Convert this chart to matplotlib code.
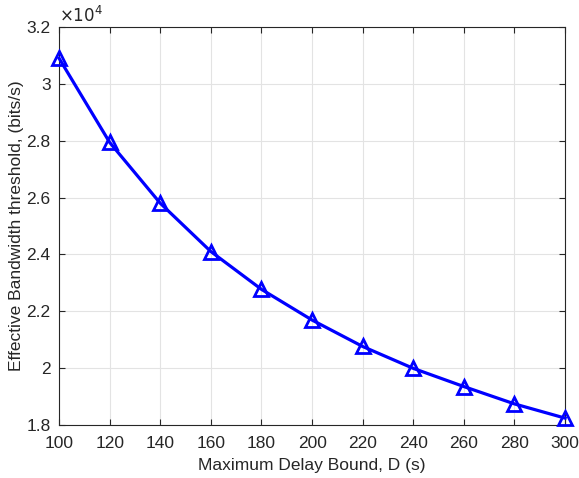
import numpy as np
import matplotlib.pyplot as plt

delay = [100, 120, 140, 160, 180, 200, 220, 240, 260, 280, 300]
bandwidth = [3.090, 2.794, 2.580, 2.410, 2.277, 2.169, 2.076, 1.999, 1.935, 1.874, 1.824]
bandwidth = np.array(bandwidth) * 1e4

xticks = np.arange(100, 301, 20)
yticks = np.arange(1.8, 3.21, 0.2)

plt.rcParams['font.family'] = ['Liberation Sans', 'DejaVu Sans']
grey = '#262626'

fig = plt.figure(figsize=(5.79, 4.78), dpi=100)
ax = fig.add_axes([0.102, 0.111, 0.874, 0.8325])

ax.plot(delay, bandwidth, color='#0000ff', linewidth=2.3, marker='^',
        markersize=10, markerfacecolor='none', markeredgewidth=2, clip_on=False, zorder=3)

ax.set_xlim(100, 300)
ax.set_ylim(1.8e4, 3.2e4)
ax.set_xticks(xticks)
ax.set_yticks(yticks * 1e4)
ax.set_yticklabels(['%g' % v for v in np.round(yticks, 1)])
ax.grid(True, color='#e3e3e3', linewidth=0.8)
ax.set_axisbelow(True)
ax.tick_params(direction='in', length=4, colors=grey, labelsize=12.5, top=True, right=True,
               labeltop=False, labelright=False)
ax.tick_params(axis='x', pad=8)
ax.tick_params(axis='y', pad=6)
for s in ax.spines.values():
    s.set_color(grey)
    s.set_linewidth(0.8)

ax.text(0.0, 1.005, r'$\times10^4$', transform=ax.transAxes, fontsize=12, color=grey,
        ha='left', va='bottom')
ax.set_xlabel('Maximum Delay Bound, D (s)', fontsize=12.5, color=grey, labelpad=5)
ax.set_ylabel('Effective Bandwidth threshold, (bits/s)', fontsize=12.5, color=grey, labelpad=2)

fig.savefig('out.png', dpi=100)
